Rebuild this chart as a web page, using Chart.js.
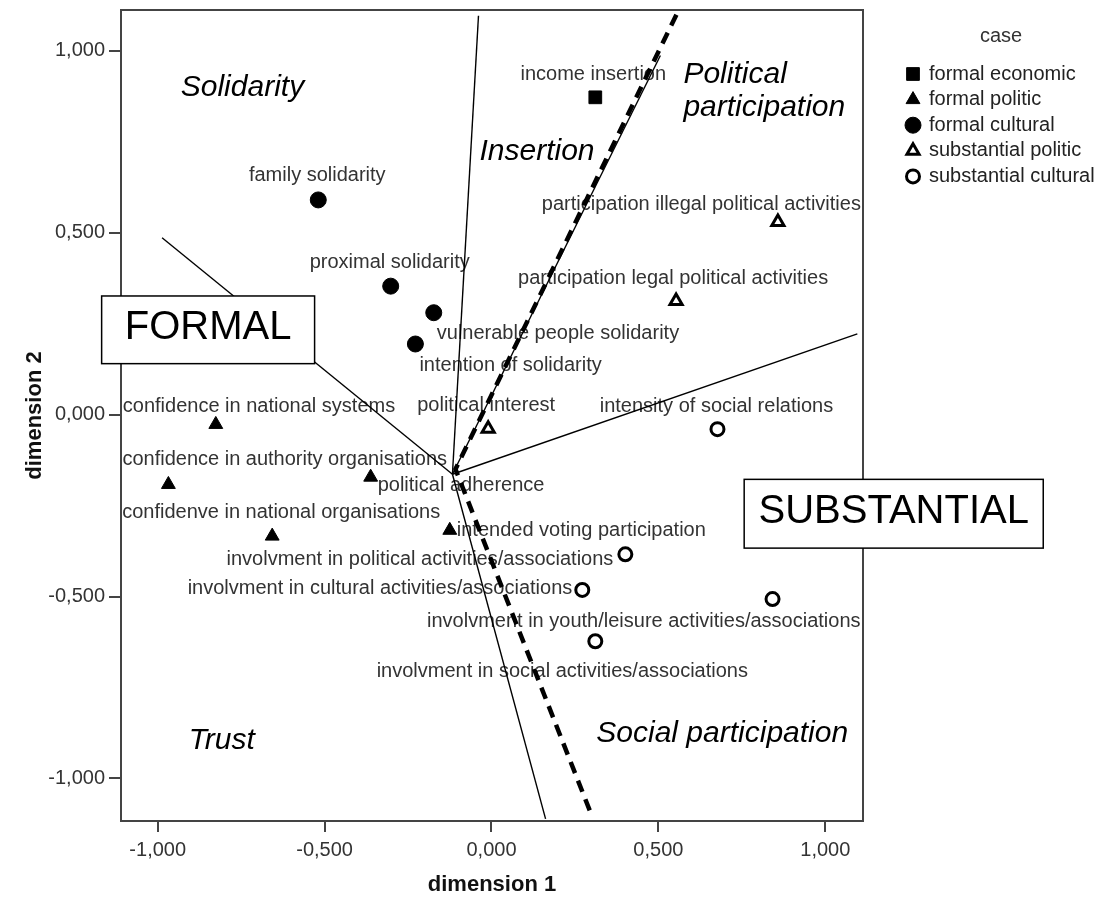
<!DOCTYPE html>
<html>
<head>
<meta charset="utf-8">
<script src="https://cdn.jsdelivr.net/npm/chart.js@4.4.1/dist/chart.umd.min.js"></script>
<style>
    html, body { margin: 0; background: #fff; }
    #wrap { width: 1108px; height: 905px; }
</style>
</head>
<body>
<div id="wrap"><canvas id="myChart"></canvas></div>
<script>
// values (dimension 1 = x, dimension 2 = y)
const caseNames = ['formal economic', 'formal politic', 'formal cultural', 'substantial politic', 'substantial cultural'];

const formalEconomicLabels = ['income insertion'];
const formalEconomicX = [0.311];
const formalEconomicY = [0.872];

const formalPoliticLabels = ['confidence in national systems', 'confidence in authority organisations', 'political adherence',
    'confidenve in national organisations', 'intended voting participation'];
const formalPoliticX = [-0.826, -0.968, -0.362, -0.657, -0.125];
const formalPoliticY = [-0.027, -0.192, -0.172, -0.334, -0.318];

const formalCulturalLabels = ['family solidarity', 'proximal solidarity', 'vulnerable people solidarity', 'intention of solidarity'];
const formalCulturalX = [-0.519, -0.302, -0.173, -0.228];
const formalCulturalY = [0.590, 0.353, 0.280, 0.194];

const substPoliticLabels = ['participation illegal political activities', 'participation legal political activities', 'political interest'];
const substPoliticX = [0.858, 0.553, -0.010];
const substPoliticY = [0.529, 0.312, -0.039];

const substCulturalLabels = ['intensity of social relations', 'involvment in political activities/associations',
    'involvment in cultural activities/associations', 'involvment in youth/leisure activities/associations',
    'involvment in social activities/associations'];
const substCulturalX = [0.677, 0.401, 0.272, 0.842, 0.311];
const substCulturalY = [-0.040, -0.384, -0.482, -0.507, -0.623];

// dividing lines, in data units
const lineCenter = [-0.117, -0.164];
const solidEnds = [[-0.039, 1.096], [-0.987, 0.486], [1.096, 0.222], [0.162, -1.111], [0.506, 0.987]];
const dashedPath = [[0.554, 1.099], [-0.108, -0.150], [0.302, -1.106]];

const xTicks = [-1, -0.5, 0, 0.5, 1];
const yTicks = [-1, -0.5, 0, 0.5, 1];
const xRange = [-1.11, 1.113];
const yRange = [-1.117, 1.112];

const regionNames = ['Solidarity', 'Insertion', 'Political', 'participation', 'Trust', 'Social participation'];
const boxNames = ['FORMAL', 'SUBSTANTIAL'];

// ---- layout / style ----
const FONT = '"Liberation Sans", Arial, sans-serif';

const groups = [
    { labels: formalEconomicLabels, x: formalEconomicX, y: formalEconomicY },
    { labels: formalPoliticLabels, x: formalPoliticX, y: formalPoliticY },
    { labels: formalCulturalLabels, x: formalCulturalX, y: formalCulturalY },
    { labels: substPoliticLabels, x: substPoliticX, y: substPoliticY },
    { labels: substCulturalLabels, x: substCulturalX, y: substCulturalY }
];

const caseStyles = [
    { pointStyle: 'rect', radius: 9, bg: '#000', bw: 1 },
    { pointStyle: 'triangle', radius: 8, bg: '#000', bw: 1 },
    { pointStyle: 'circle', radius: 8, bg: '#000', bw: 1 },
    { pointStyle: 'triangle', radius: 7, bg: '#fff', bw: 3 },
    { pointStyle: 'circle', radius: 6.5, bg: '#fff', bw: 3 }
];

// label offset from its point in px: [dx, dy, align]
const labelPlace = {
    'income insertion': [-2, -23, 'center'],
    'confidence in national systems': [-93, -18, 'left'],
    'confidence in authority organisations': [-46, -25, 'left'],
    'political adherence': [7, 8, 'left'],
    'confidenve in national organisations': [-150, -24, 'left'],
    'intended voting participation': [7, 0, 'left'],
    'family solidarity': [-1, -24, 'center'],
    'proximal solidarity': [-1, -24, 'center'],
    'vulnerable people solidarity': [3, 21, 'left'],
    'intention of solidarity': [4, 21, 'left'],
    'participation illegal political activities': [83, -18, 'right'],
    'participation legal political activities': [-3, -23, 'center'],
    'political interest': [-2, -23, 'center'],
    'intensity of social relations': [-1, -23, 'center'],
    'involvment in political activities/associations': [-12, 5, 'right'],
    'involvment in cultural activities/associations': [-10, -1, 'right'],
    'involvment in youth/leisure activities/associations': [88, 22, 'right'],
    'involvment in social activities/associations': [-33, 30, 'center']
};

// region label anchors (left edge, middle) in data units
const regionAt = [[-0.931, 0.898], [-0.036, 0.723], [0.575, 0.934], [0.575, 0.844], [-0.907, -0.895], [0.314, -0.876]];
// boxes: [left, top, right, bottom] in data units
const boxAt = [[-1.168, 0.326, -0.530, 0.140], [0.757, -0.178, 1.653, -0.367]];

const fmt = v => Number(v).toFixed(3).replace('.', ',');

const datasets = [];
groups.forEach((g, i) => {
    const s = caseStyles[i];
    datasets.push({
        label: caseNames[i],
        data: g.x.map((v, k) => ({ x: v, y: g.y[k] })),
        pointStyle: s.pointStyle,
        pointRadius: s.radius,
        pointBackgroundColor: s.bg,
        pointBorderColor: '#000',
        pointBorderWidth: s.bw,
        showLine: false,
        order: 0
    });
});
solidEnds.forEach(e => {
    datasets.push({
        data: [{ x: lineCenter[0], y: lineCenter[1] }, { x: e[0], y: e[1] }],
        showLine: true, borderColor: '#000', borderWidth: 1.4, pointRadius: 0, order: 1
    });
});
datasets.push({
    data: dashedPath.map(p => ({ x: p[0], y: p[1] })),
    showLine: true, borderColor: '#000', borderWidth: 4.5, borderDash: [12, 8], pointRadius: 0, order: 1
});

function marker(ctx, s, px, py) {
    ctx.save();
    ctx.fillStyle = s.bg;
    ctx.strokeStyle = '#000';
    ctx.lineWidth = s.bw;
    Chart.helpers.drawPoint(ctx, { pointStyle: s.pointStyle, radius: s.radius, borderWidth: s.bw, rotation: 0 }, px, py);
    ctx.restore();
}

const overlay = {
    id: 'overlay',
    beforeDatasetsDraw(chart) {
        const { ctx, scales: { x, y } } = chart;
        ctx.save();
        ctx.font = `20px ${FONT}`;
        ctx.fillStyle = '#333';
        ctx.textBaseline = 'middle';
        groups.forEach(g => g.labels.forEach((name, i) => {
            const [dx, dy, align] = labelPlace[name];
            ctx.textAlign = align;
            ctx.fillText(name, x.getPixelForValue(g.x[i]) + dx, y.getPixelForValue(g.y[i]) + dy);
        }));

        ctx.font = `italic 30px ${FONT}`;
        ctx.fillStyle = '#000';
        ctx.textAlign = 'left';
        regionNames.forEach((name, i) => {
            ctx.fillText(name, x.getPixelForValue(regionAt[i][0]), y.getPixelForValue(regionAt[i][1]));
        });
        ctx.restore();
    },
    afterDatasetsDraw(chart) {
        const { ctx, chartArea: a, scales: { x, y } } = chart;
        ctx.save();
        ctx.strokeStyle = '#444';
        ctx.lineWidth = 2;
        ctx.strokeRect(a.left, a.top, a.right - a.left, a.bottom - a.top);

        ctx.font = `40px ${FONT}`;
        ctx.textAlign = 'center';
        ctx.textBaseline = 'middle';
        boxNames.forEach((name, i) => {
            const [l, t, r, b] = boxAt[i];
            const x0 = x.getPixelForValue(l), x1 = x.getPixelForValue(r);
            const y0 = y.getPixelForValue(t), y1 = y.getPixelForValue(b);
            ctx.fillStyle = '#fff';
            ctx.fillRect(x0, y0, x1 - x0, y1 - y0);
            ctx.strokeStyle = '#000';
            ctx.lineWidth = 1.5;
            ctx.strokeRect(x0, y0, x1 - x0, y1 - y0);
            ctx.fillStyle = '#000';
            ctx.fillText(name, (x0 + x1) / 2, (y0 + y1) / 2 - 2);
        });

        // axis titles
        ctx.font = `bold 22px ${FONT}`;
        ctx.fillStyle = '#111';
        ctx.fillText('dimension 1', (a.left + a.right) / 2, 885);
        ctx.save();
        ctx.translate(35, (a.top + a.bottom) / 2);
        ctx.rotate(-Math.PI / 2);
        ctx.fillText('dimension 2', 0, 0);
        ctx.restore();

        // legend
        ctx.font = `20px ${FONT}`;
        ctx.fillStyle = '#333';
        ctx.fillText('case', 1001, 36);
        ctx.textAlign = 'left';
        caseNames.forEach((name, i) => {
            const ly = 74 + i * 25.6;
            marker(ctx, caseStyles[i], 913, ly);
            ctx.fillStyle = '#222';
            ctx.fillText(name, 929, ly);
        });
        ctx.restore();
    }
};

const ctx = document.getElementById('myChart').getContext('2d');

new Chart(ctx, {
    type: 'scatter',
    data: { datasets: datasets },
    options: {
        responsive: true,
        maintainAspectRatio: false,
        animation: false,
        layout: { padding: { top: 0, right: 245, bottom: 0, left: 0 } },
        plugins: {
            legend: { display: false },
            tooltip: { enabled: false }
        },
        scales: {
            x: {
                type: 'linear',
                min: xRange[0],
                max: xRange[1],
                afterBuildTicks: s => { s.ticks = xTicks.map(v => ({ value: v })); },
                afterFit: s => { s.height = 84; },
                border: { display: false },
                grid: { drawOnChartArea: false, drawTicks: true, tickLength: 11, color: '#444', lineWidth: 2 },
                ticks: { callback: fmt, color: '#333', font: { family: FONT, size: 20 }, padding: 6, maxRotation: 0, autoSkip: false }
            },
            y: {
                type: 'linear',
                min: yRange[0],
                max: yRange[1],
                afterBuildTicks: s => { s.ticks = yTicks.map(v => ({ value: v })); },
                afterFit: s => { s.width = 121; s.paddingTop = 0; },
                border: { display: false },
                grid: { drawOnChartArea: false, drawTicks: true, tickLength: 12, color: '#444', lineWidth: 2 },
                ticks: { callback: fmt, color: '#333', font: { family: FONT, size: 20 }, padding: 4, autoSkip: false }
            }
        }
    },
    plugins: [overlay]
});
</script>
</body>
</html>
